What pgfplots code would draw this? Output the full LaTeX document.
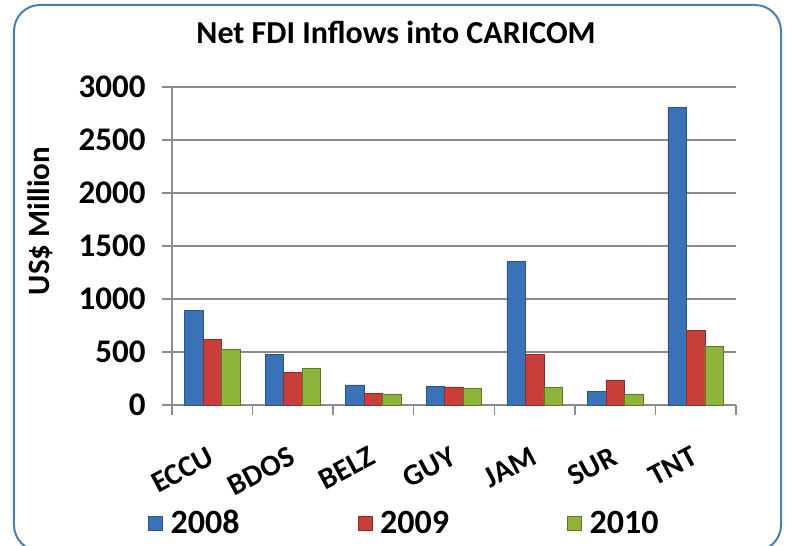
\documentclass[border=0pt]{standalone}
\usepackage{fontspec}
\setmainfont{Carlito}
\usepackage{pgfplots}
\pgfplotsset{compat=1.18}

\definecolor{bBlue}{HTML}{4A7EBB}
\definecolor{barBlue}{HTML}{3A72B8}
\definecolor{barBlueD}{HTML}{2A5585}
\definecolor{barRed}{HTML}{C83E3B}
\definecolor{barRedD}{HTML}{8C2D2B}
\definecolor{barGreen}{HTML}{8FB43C}
\definecolor{barGreenD}{HTML}{5E7A24}
\definecolor{gridGray}{HTML}{8C8C8C}

\begin{document}
\begin{tikzpicture}[font=\bfseries]
  % picture frame: 1px of the reference = 1bp, origin at axis corner
  \useasboundingbox (-172bp,-141bp) rectangle (623bp,405bp);
  \draw[bBlue, line width=2bp, rounded corners=26bp]
    (-158bp,-146bp) rectangle (609bp,400bp);

  \begin{axis}[
    at={(0,0)}, anchor=south west,
    scale only axis,
    width=564bp, height=318bp,
    xmin=-0.5, xmax=6.5,
    ymin=0, ymax=3000,
    ytick={0,500,...,3000},
    ymajorgrids,
    major grid style={gridGray, line width=1.3bp},
    axis x line*=bottom, axis y line*=left,
    axis line style={-, gridGray, line width=1.3bp},
    tick style={gridGray, line width=1.3bp},
    tick align=outside,
    major tick length=10bp,
    /pgf/number format/assume math mode=true,
    /pgf/number format/1000 sep={},
    yticklabel style={font=\fontsize{33bp}{36bp}\selectfont\bfseries, xshift=-13bp},
    % boundary ticks along x, labels at the category centres
    xtick={-0.5,0.5,...,6.5},
    xticklabels={},
    extra x ticks={0,1,2,3,4,5,6},
    extra x tick labels={ECCU,BDOS,BELZ,GUY,JAM,SUR,TNT},
    extra x tick style={major tick length=0pt, grid=none,
      xticklabel style={font=\fontsize{30bp}{34bp}\selectfont\bfseries,
        xshift=-4bp, yshift=-36bp, rotate=28, anchor=north east}},
    ybar=0pt,
    bar width=18.5bp,
    legend style={draw=none, fill=none,
      at={(0.412,-0.371)}, anchor=center,
      legend columns=3,
      font=\fontsize{34bp}{36bp}\selectfont\bfseries,
      /tikz/every even column/.append style={column sep=116bp},
      /tikz/every odd column/.append style={column sep=0bp}},
    legend image code/.code={\draw[#1] (0bp,-7bp) rectangle (14bp,7bp); \path (20bp,0bp);},
  ]

  % 2008
  \addplot[draw=barBlueD, line width=0.6bp, fill=barBlue]
    coordinates {(0,890) (1,475) (2,189) (3,179) (4,1352) (5,126) (6,2806)};
  % 2009
  \addplot[draw=barRedD, line width=0.6bp, fill=barRed]
    coordinates {(0,622) (1,305) (2,113) (3,170) (4,474) (5,237) (6,704)};
  % 2010
  \addplot[draw=barGreenD, line width=0.6bp, fill=barGreen]
    coordinates {(0,528) (1,349) (2,104) (3,160) (4,171) (5,104) (6,550)};

  \legend{2008,2009,2010}
  \end{axis}

  \node[font=\fontsize{32bp}{34bp}\selectfont\bfseries] at (224bp,373bp) {Net FDI Inflows into CARICOM};
  \node[font=\fontsize{31bp}{34bp}\selectfont\bfseries, rotate=90] at (-132bp,184bp) {US\$ Million};
\end{tikzpicture}
\end{document}
